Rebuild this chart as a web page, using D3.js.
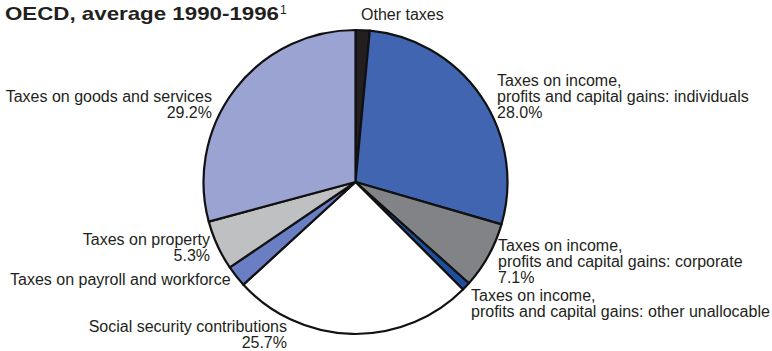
<!DOCTYPE html>
<html>
<head>
<meta charset="utf-8">
<script src="https://cdn.jsdelivr.net/npm/d3@7"></script>
<style>
  html, body { margin: 0; padding: 0; background: #fff; }
  svg { display: block; }
  text { font-family: "Liberation Sans", Arial, sans-serif; fill: #231f20; }
</style>
</head>
<body>
<svg id="chart" width="772" height="351"></svg>
<script>
// Tax revenue structure, share of total (%), clockwise from 12 o'clock
const categories = [
  "Other taxes",
  "Taxes on income, profits and capital gains: individuals",
  "Taxes on income, profits and capital gains: corporate",
  "Taxes on income, profits and capital gains: other unallocable",
  "Social security contributions",
  "Taxes on payroll and workforce",
  "Taxes on property",
  "Taxes on goods and services"
];
const shares = [1.5, 28.0, 7.1, 0.9, 25.7, 2.3, 5.3, 29.2];
// Which shares are printed under their label
const showValue = [false, true, true, false, true, false, true, true];
// Label text lines per slice
const labelLines = [
  ["Other taxes"],
  ["Taxes on income,", "profits and capital gains: individuals"],
  ["Taxes on income,", "profits and capital gains: corporate"],
  ["Taxes on income,", "profits and capital gains: other unallocable"],
  ["Social security contributions"],
  ["Taxes on payroll and workforce"],
  ["Taxes on property"],
  ["Taxes on goods and services"]
];
const title = "OECD, average 1990-1996";
const titleNote = "1";

const colors = ["#231f20", "#4265b2", "#818386", "#1d4f9e", "#ffffff", "#6a7ec3", "#bfc0c2", "#9ba3d3"];

// Label placement: anchor point, alignment and line spacing
const labelLayout = [
  { x: 361, y: 20,  anchor: "start", dy: 16 },
  { x: 497, y: 86,  anchor: "start", dy: 16 },
  { x: 498, y: 251, anchor: "start", dy: 16 },
  { x: 471, y: 301, anchor: "start", dy: 16 },
  { x: 287, y: 332, anchor: "end",   dy: 16 },
  { x: 10,  y: 285, anchor: "start", dy: 16 },
  { x: 210, y: 245, anchor: "end",   dy: 16 },
  { x: 212, y: 102, anchor: "end",   dy: 16 }
];

const svg = d3.select("#chart");
const cx = 355.5, cy = 182, r = 152;

const pie = d3.pie().sort(null).value(d => d).startAngle(0).endAngle(2 * Math.PI);
const arc = d3.arc().innerRadius(0).outerRadius(r);

const g = svg.append("g").attr("transform", `translate(${cx},${cy})`);
g.selectAll("path")
  .data(pie(shares))
  .join("path")
  .attr("d", arc)
  .attr("fill", (d, i) => colors[i])
  .attr("stroke", "#111")
  .attr("stroke-width", 2.2)
  .attr("stroke-linejoin", "round");

// Slice labels
const fmt = d3.format(".1f");
const fontSize = 16;
categories.forEach((c, i) => {
  const L = labelLayout[i];
  const lines = labelLines[i].slice();
  if (showValue[i]) lines.push(fmt(shares[i]) + "%");
  const t = svg.append("text")
    .attr("x", L.x).attr("y", L.y)
    .attr("text-anchor", L.anchor)
    .style("font-size", fontSize + "px");
  lines.forEach((line, k) => {
    t.append("tspan")
      .attr("x", L.x)
      .attr("y", L.y + k * L.dy)
      .text(line);
  });
});

// Title (slightly wide-set bold) with footnote marker
svg.append("text")
  .attr("x", 5).attr("y", 20)
  .attr("textLength", 274)
  .attr("lengthAdjust", "spacingAndGlyphs")
  .style("font-size", "19px")
  .style("font-weight", "bold")
  .text(title);
svg.append("text")
  .attr("x", 280).attr("y", 14)
  .style("font-size", "12px")
  .text(titleNote);
</script>
</body>
</html>
